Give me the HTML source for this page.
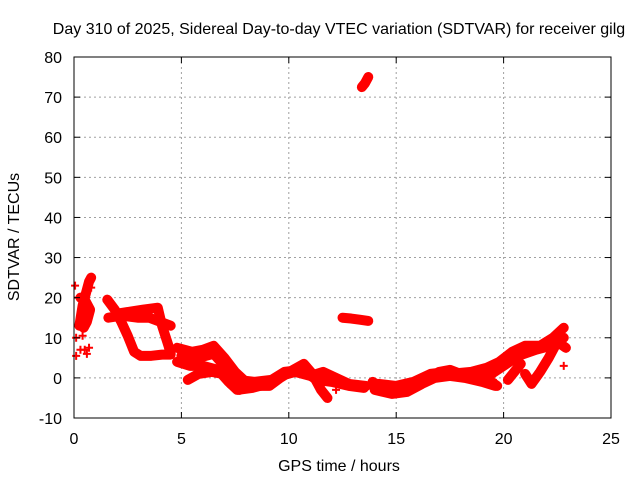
<!DOCTYPE html>
<html><head><meta charset="utf-8"><style>
body{margin:0;background:#fff;}
svg text{font-family:"Liberation Sans",sans-serif;font-size:16px;fill:#000;}
</style></head><body>
<svg id="chart" width="640" height="480" xmlns="http://www.w3.org/2000/svg">
<rect width="640" height="480" fill="#fff"/>
<text x="339" y="34" text-anchor="middle">Day 310 of 2025, Sidereal Day-to-day VTEC variation (SDTVAR) for receiver gilg</text>
<text x="339" y="471" text-anchor="middle">GPS time / hours</text>
<text x="19" y="237" text-anchor="middle" transform="rotate(-90 19 237)">SDTVAR / TECUs</text>
<g id="grid"></g><g id="marks"></g><g id="axes"></g>
</svg>
<script>
const xTicks=[0,5,10,15,20,25];
const yTicks=[-10,0,10,20,30,40,50,60,70,80];
const track1=[[0.25,13],[0.4,18],[0.55,21],[0.7,24],[0.8,25]];
const track2=[[0.3,20],[0.5,19.5],[0.75,17],[0.6,14],[0.45,12.5]];
const scatterT=[0.1,0.3,0.5,0.7,0.1,0.4,0.05,0.2,0.6,0.8];
const scatterV=[5.5,7,7,7.5,10,10.5,23,20,6,22.5];
const track3=[[1.55,19.5],[1.9,17],[2.2,14],[2.5,10.5],[2.8,6.5],[3.1,5.5],[3.6,5.5],[4.1,5.8],[4.5,5.8]];
const track4=[[2.0,16],[2.6,16.5],[3.2,17],[3.9,17.5],[4.1,13],[4.4,8],[4.5,6]];
const track5=[[1.6,15],[2.2,15.5],[3.0,15],[3.5,15],[4.0,14],[4.5,13]];
const track6=[[4.8,7.5],[5.5,6.5],[6.0,7],[6.5,8],[7.0,5],[7.5,1.5],[8.2,-2],[9.1,-2],[9.6,0],[10.2,2],[10.7,3.5],[11.1,1],[11.5,-3],[11.8,-5]];
const track7=[[4.8,4],[5.4,3],[6.0,3],[6.7,2],[7.2,-1],[7.6,-3],[8.3,-2.5],[9.0,-1.5],[9.6,0.5],[10.3,1.5],[11.0,0.5],[11.6,1.5],[12.2,0],[12.8,-1.5],[13.6,-2]];
const track8=[[5.3,-0.5],[5.8,1],[6.4,1.5],[6.9,1],[7.3,-1.5],[7.7,-3]];
const track9=[[13.9,-1],[14.4,-2.5],[14.9,-3.5],[15.5,-2.5],[16.0,-1],[16.6,0],[17.0,1.5],[17.5,2],[18.0,1],[18.9,1],[19.7,-2]];
const track10=[[14.0,-3],[14.8,-4],[15.5,-3.5],[16.2,-1.5],[16.8,0],[17.5,0.5],[18.2,0],[19.0,-1],[19.6,-2]];
const track11=[[16.5,0.5],[17.5,1],[18.5,1.5],[19.2,2.5],[19.8,4],[20.4,6.5],[21.0,8],[21.7,8],[22.3,10],[22.8,12.5]];
const track12=[[20.2,-0.5],[20.8,3.5]];
const track13=[[21.0,1],[21.3,-1.5],[21.7,1.5],[22.1,5],[22.5,9],[22.9,7.5]];
const track14=[[12.5,15],[12.9,14.8],[13.3,14.5],[13.7,14.2]];
const track15=[[13.4,72.5],[13.55,73.5],[13.7,75]];
const track16=[[5.0,5.5],[5.8,5],[6.5,6],[7.0,3],[7.6,-0.5],[8.4,-1],[9.2,-0.5],[9.8,1.5],[10.6,2],[11.3,-0.5],[12.0,-1],[12.8,-2],[13.5,-2.5]];
const track17=[[14.2,-1.5],[15.0,-2],[15.8,-1],[16.6,1],[17.4,1.5],[18.3,0.5],[19.3,0.5],[20.0,3],[20.7,5.5],[21.5,7],[22.2,8],[22.8,10]];
const isoT=[22.8,19.5,12.2];
const isoV=[3,-0.5,-3];
const tracks=[track1,track2,track3,track4,track5,track6,track7,track8,track9,track10,track11,track12,track13,track14,track15,track16,track17];

const L=74,R=611,T=57,B=418;
const xs=t=>L+(t-0)/(25-0)*(R-L);
const ys=v=>B-(v+10)/(80+10)*(B-T);
const NS='http://www.w3.org/2000/svg';
function mk(tag,parent){const e=document.createElementNS(NS,tag);parent.appendChild(e);return e;}
const grid=document.getElementById('grid'),marks=document.getElementById('marks'),axes=document.getElementById('axes');
xTicks.forEach(t=>{
  const x=xs(t);
  if(t>0&&t<25){const g=mk('line',grid);g.setAttribute('x1',x);g.setAttribute('x2',x);g.setAttribute('y1',T);g.setAttribute('y2',B);g.setAttribute('stroke','#a0a0a0');g.setAttribute('stroke-dasharray','2,3');
  
  }
  [[B,B-6],[T,T+6]].forEach(p=>{const k=mk('line',axes);k.setAttribute('x1',x);k.setAttribute('x2',x);k.setAttribute('y1',p[0]);k.setAttribute('y2',p[1]);k.setAttribute('stroke','#000');
  
  });
  const tx=mk('text',axes);tx.setAttribute('x',x);tx.setAttribute('y',444);tx.setAttribute('text-anchor','middle');tx.textContent=t;
  
  
});
yTicks.forEach(v=>{
  const y=ys(v);
  if(v>-10&&v<80){const g=mk('line',grid);g.setAttribute('x1',L);g.setAttribute('x2',R);g.setAttribute('y1',y);g.setAttribute('y2',y);g.setAttribute('stroke','#a0a0a0');g.setAttribute('stroke-dasharray','2,3');
  
  }
  [[L,L+6],[R,R-6]].forEach(p=>{const k=mk('line',axes);k.setAttribute('x1',p[0]);k.setAttribute('x2',p[1]);k.setAttribute('y1',y);k.setAttribute('y2',y);k.setAttribute('stroke','#000');
  
  });
  const tx=mk('text',axes);tx.setAttribute('x',62);tx.setAttribute('y',y+6);tx.setAttribute('text-anchor','end');tx.textContent=v;
  
  
});
const fr=mk('rect',axes);fr.setAttribute('x',L);fr.setAttribute('y',T);fr.setAttribute('width',R-L);fr.setAttribute('height',B-T);fr.setAttribute('fill','none');fr.setAttribute('stroke','#000');


function plus(t,v){
  const p=mk('path',marks);const x=xs(t),y=ys(v);
  p.setAttribute('d',`M${x-4},${y}H${x+4}M${x},${y-4}V${y+4}`);p.setAttribute('stroke','#f00');p.setAttribute('stroke-width','2');
  
  
}
tracks.forEach(tr=>{
  const pl=mk('polyline',marks);
  pl.setAttribute('points',tr.map(p=>xs(p[0])+','+ys(p[1])).join(' '));
  pl.setAttribute('fill','none');pl.setAttribute('stroke','#f00');pl.setAttribute('stroke-width','10');pl.setAttribute('stroke-linejoin','round');pl.setAttribute('stroke-linecap','round');
  
  
  tr.forEach(p=>plus(p[0],p[1]));
});
scatterT.forEach((t,i)=>plus(t,scatterV[i]));
isoT.forEach((t,i)=>plus(t,isoV[i]));
</script>
</body></html>
